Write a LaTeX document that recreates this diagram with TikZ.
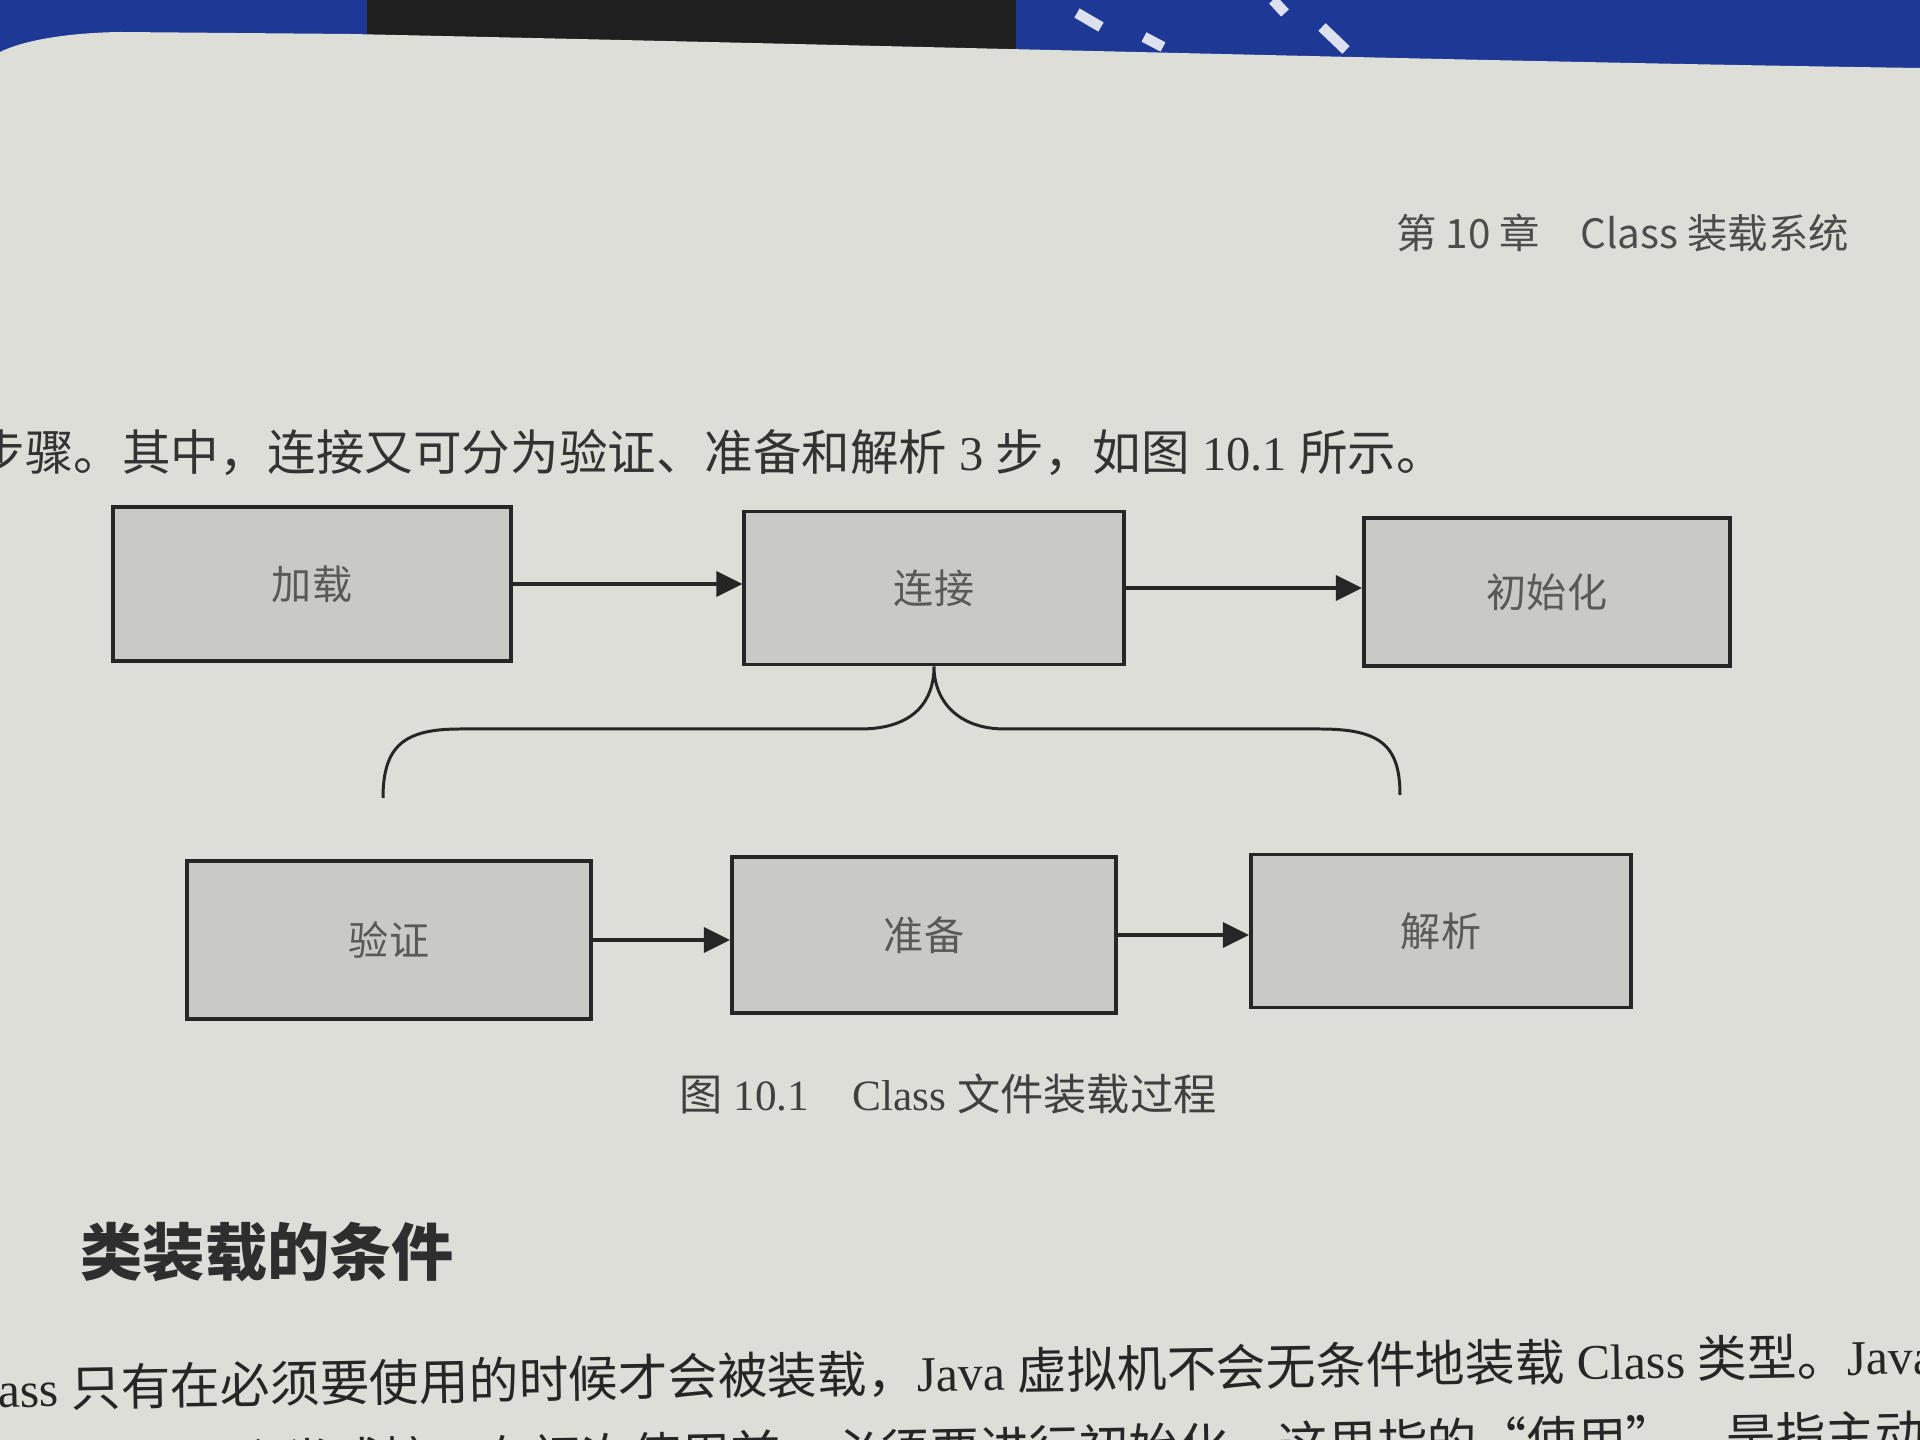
\documentclass[tikz,border=0pt]{standalone}
\usepackage{fontspec}
\setmainfont{Liberation Serif}
\newfontfamily\cjk{Noto Sans CJK SC}
\usepackage{tikz}
\usetikzlibrary{calc}
\usetikzlibrary{positioning}
\usetikzlibrary{arrows.meta}
\definecolor{pagegray}{RGB}{222,222,217}
\definecolor{boxgray}{RGB}{201,201,197}
\definecolor{clothblue}{RGB}{30,56,150}
\tikzstyle{stagebox} = [draw=black!85, fill=boxgray, rectangle, line width=1.1pt, inner sep=0pt, text=black!65, font=\cjk\fontsize{11.4}{13}\selectfont]
\tikzstyle{flow} = [draw=black!85, line width=1pt, -{Triangle[length=0.26cm,width=0.25cm]}]
\tikzstyle{braceline} = [draw=black!85, line width=0.85pt]
\tikzstyle{pagetext} = [inner sep=0pt, text=black!80]

\begin{document}
\begin{tikzpicture}[x=0.01cm, y=-0.01cm]
\useasboundingbox (0,0) rectangle (1920,1440);
\clip (0,0) rectangle (1920,1440);
% cloth behind the page
\fill[clothblue] (0,0) rectangle (1920,90);
\fill[black!88] (367,0) rectangle (1016,60);
\draw[white!85!clothblue, line width=3pt] (1077,13) -- (1101,27) (1144,37) -- (1163,47) (1273,0) -- (1285,13) (1322,27) -- (1346,50);
% page
\fill[pagegray] (0,52) .. controls (20,42) and (60,33) .. (120,32) -- (350,34) .. controls (1000,48) and (1500,62) .. (1920,68) -- (1920,1440) -- (0,1440) -- cycle;

\node[pagetext, anchor=east, text=black!70, font=\cjk\fontsize{11.5}{13}\selectfont] (header) at (1850,233) {第 10 章\quad Class 装载系统};
\node[pagetext, anchor=west, font=\fontsize{13.8}{16}\selectfont] (intro) at (-24,453) {{\cjk 步骤。其中，连接又可分为验证、准备和解析} 3 {\cjk 步，如图} 10.1 {\cjk 所示。}};

\node[stagebox, minimum width=3.98cm, minimum height=1.54cm] (load) at (312,584) {加载};
\node[stagebox, minimum width=3.79cm, minimum height=1.53cm] (link) at ($(load)+(622,4)$) {连接};
\node[stagebox, minimum width=3.66cm, minimum height=1.48cm] (init) at ($(link)+(613,4)$) {初始化};
\node[stagebox, minimum width=4.03cm, minimum height=1.58cm] (verify) at ($(load)+(77,356)$) {验证};
\node[stagebox, minimum width=3.84cm, minimum height=1.56cm] (prepare) at ($(verify)+(535,-5)$) {准备};
\node[stagebox, minimum width=3.80cm, minimum height=1.53cm] (resolve) at ($(prepare)+(517,-4)$) {解析};

\draw[flow] (load.east) -- (load.east -| link.west);
\draw[flow] (link.east) -- (link.east -| init.west);
\draw[flow] (verify.east) -- (verify.east -| prepare.west);
\draw[flow] (prepare.east) -- (prepare.east -| resolve.west);

% brace under the link stage
\coordinate (brace_l) at (383,798);
\coordinate (brace_r) at (1400,795);
\draw[braceline] (brace_l) .. controls (383,745) and (405,729) .. (460,729) -- (860,729)
  .. controls (915,729) and (934,700) .. (link.south)
  .. controls (934,700) and (957,729) .. (1005,729) -- (1320,729)
  .. controls (1380,729) and (1400,745) .. (brace_r);

\node[pagetext, text=black!75, font=\fontsize{12.3}{15}\selectfont] (caption) at (948,1094) {{\cjk 图} 10.1\quad Class {\cjk 文件装载过程}};
\node[pagetext, anchor=west, text=black!82, font=\cjk\bfseries\fontsize{17.7}{21}\selectfont] (heading) at (80,1252) {类装载的条件};
\node[pagetext, anchor=west, rotate=1, text=black!85, font=\fontsize{14.15}{17}\selectfont] (body_one) at (-50,1390) {Class {\cjk 只有在必须要使用的时候才会被装载，}Java {\cjk 虚拟机不会无条件地装载} Class {\cjk 类型。}Java};
\node[pagetext, anchor=west, rotate=1, text=black!85, font=\fontsize{14.15}{17}\selectfont] (body_two) at (183,1464) {{\cjk 一个类或接口在初次使用前，必须要进行初始化。这里指的“使用”，是指主动}};
\end{tikzpicture}
\end{document}
